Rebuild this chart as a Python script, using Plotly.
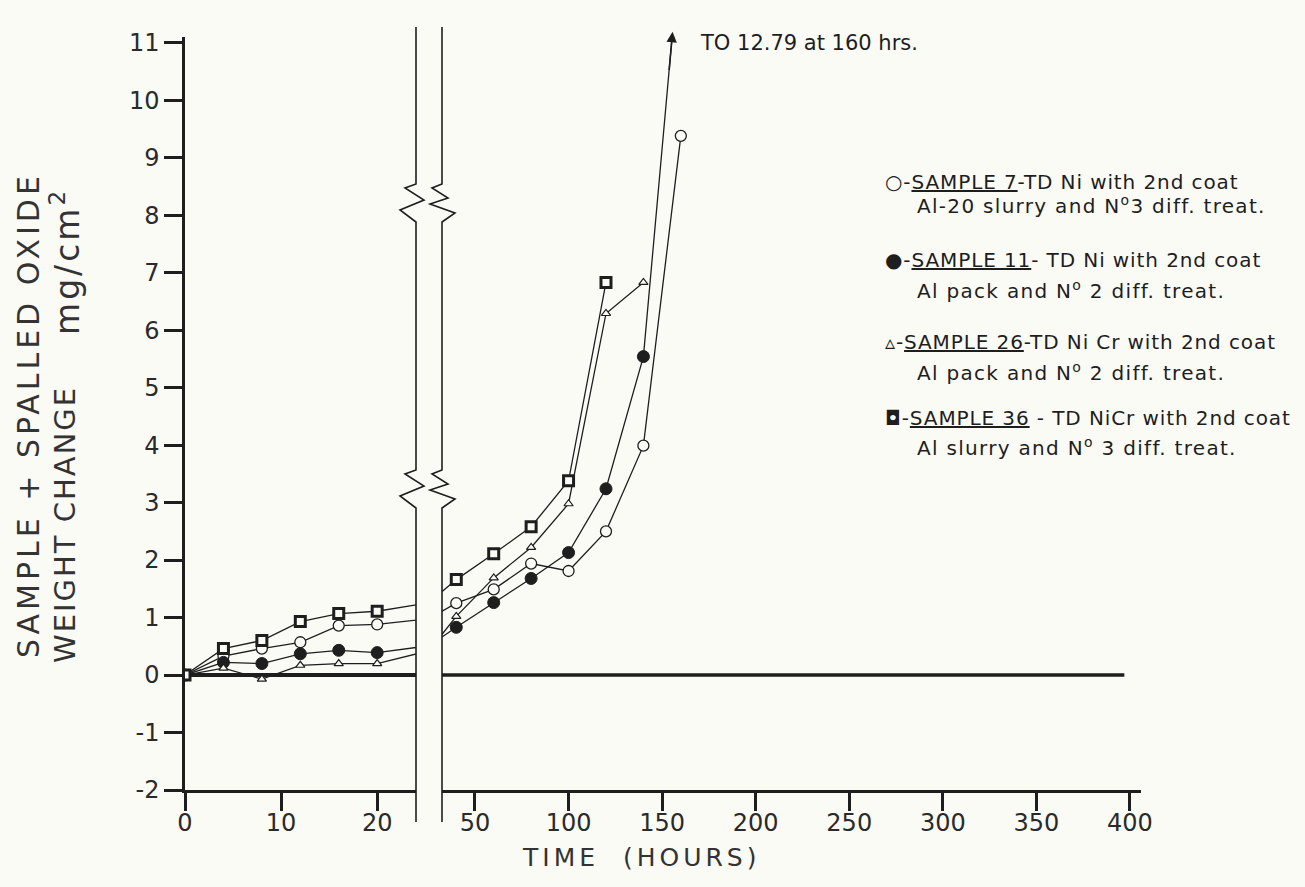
import plotly.graph_objects as go

# ---------------- data ----------------
hours = [0, 4, 8, 12, 16, 20, 40, 60, 80, 100, 120, 140, 160]
sample7 = [0, 0.33, 0.46, 0.57, 0.86, 0.88, 1.25, 1.49, 1.94, 1.81, 2.50, 3.99, 9.38]
sample11 = [0, 0.22, 0.20, 0.37, 0.43, 0.39, 0.83, 1.26, 1.68, 2.13, 3.24, 5.54, 12.79]
sample26 = [0, 0.12, -0.07, 0.17, 0.20, 0.20, 1.02, 1.69, 2.22, 2.98, 6.29, 6.83]
sample36 = [0, 0.46, 0.60, 0.93, 1.07, 1.11, 1.66, 2.11, 2.58, 3.38, 6.83]

left_ticks = [0, 10, 20]
right_ticks = [50, 100, 150, 200, 250, 300, 350, 400]
y_ticks = list(range(-2, 12))
y_ticktext = [str(v) for v in y_ticks]

legend_sym = ["\u25CB", "\u25CF", "\u25B5", "\u25D8"]
legend_name = ["SAMPLE 7", "SAMPLE 11", "SAMPLE 26", "SAMPLE 36"]
legend_sep = ["-", "- ", "-", " - "]
legend_alloy = ["TD Ni with 2nd coat", "TD Ni with 2nd coat",
                "TD Ni Cr with 2nd coat", "TD NiCr with 2nd coat"]
legend_coat = ["Al-20 slurry and N<sup>o</sup>3 diff. treat.",
               "Al pack and N<sup>o</sup> 2 diff. treat.",
               "Al pack and N<sup>o</sup> 2 diff. treat.",
               "Al slurry and N<sup>o</sup> 3 diff. treat."]

# ---------------- geometry ----------------
W, H = 1305, 887
ML, MR, MT, MB = 185, 164, 37, 97
PW, PH = W - ML - MR, H - MT - MB
INK = "#1e1e1e"
BG = "#fbfbf6"
FONT = "DejaVu Sans"


def px(x):
    return (x - ML) / PW


def py(y):
    return (H - MB - y) / PH


left_dom = [0, px(416)]
right_dom = [px(442), 1]
left_range = [0, 24.04]
right_range = [32.37, 405.9]
y_range = [-2, 11.10]

series = [
    (sample7, dict(symbol="circle", size=11, color=BG, line=dict(color=INK, width=1.3))),
    (sample11, dict(symbol="circle", size=12, color=INK, line=dict(color=INK, width=1))),
    (sample26, dict(symbol="triangle-up", size=8, color=BG, line=dict(color=INK, width=1.2))),
    (sample36, dict(symbol="square", size=10, color=BG, line=dict(color=INK, width=3))),
]

fig = go.Figure()
for vals, mk in series:
    for xa, ya in (("x", "y"), ("x2", "y2")):
        fig.add_trace(go.Scatter(
            x=hours[:len(vals)], y=vals, xaxis=xa, yaxis=ya,
            mode="lines+markers", line=dict(color=INK, width=1.3),
            marker=mk, showlegend=False, cliponaxis=True))

axis_common = dict(showgrid=False, ticks="outside", ticklen=18, tickwidth=2.5,
                   tickcolor=INK, showline=True, linewidth=2.5, linecolor=INK,
                   tickfont=dict(family=FONT, size=24, color="#2a2a2a"))

fig.update_layout(
    width=W, height=H, margin=dict(l=ML, r=MR, t=MT, b=MB),
    paper_bgcolor=BG, plot_bgcolor=BG, showlegend=False,
    xaxis=dict(domain=left_dom, range=left_range, tickvals=left_ticks,
               zeroline=False, anchor="y", ticklabelstandoff=-9, **axis_common),
    xaxis2=dict(domain=right_dom, range=right_range, tickvals=right_ticks,
                zeroline=False, anchor="y2", ticklabelstandoff=-9, **axis_common),
    yaxis=dict(range=y_range, tickvals=y_ticks, ticktext=y_ticktext, anchor="x",
               zeroline=True, zerolinewidth=3.5, zerolinecolor=INK, **axis_common),
    yaxis2=dict(range=y_range, anchor="x2", matches="y", showline=False,
                showticklabels=False, ticks="", showgrid=False, zeroline=False),
)

shapes = []
# zero line of the right panel
shapes.append(dict(type="line", xref="x2", yref="y2", x0=right_range[0], x1=397,
                   y0=0, y1=0, line=dict(color=INK, width=3.5), layer="below"))


def break_path(x0, offsets, starts, y_top=27, y_bot=822):
    pts = [(x0, y_top)]
    for ys in starts:
        for dx, dy in offsets:
            pts.append((x0 + dx, ys + dy))
    pts.append((x0, y_bot))
    return "M " + " L ".join(f"{px(a):.5f},{py(b):.5f}" for a, b in pts)


zig_left = [(0, 0), (-11, 4), (8, 16), (-16, 26), (0, 38)]
zig_right = [(0, 0), (-10, 4), (6, 14), (-12, 20), (13, 29), (0, 38)]
for x0, zz in ((416, zig_left), (442, zig_right)):
    shapes.append(dict(type="path", xref="paper", yref="paper",
                       path=break_path(x0, zz, [184, 470]),
                       line=dict(color=INK, width=1.6)))
fig.update_layout(shapes=shapes)

ann = []
# arrow head where sample 11 leaves the chart on its way to 12.79 at 160 h
i0, i1 = len(sample11) - 2, len(sample11) - 1


def x_at(yv):
    return hours[i0] + (yv - sample11[i0]) / (sample11[i1] - sample11[i0]) * (hours[i1] - hours[i0])


tip_y, tail_y = 11.19, 10.5
ann.append(dict(x=x_at(tip_y), y=tip_y, xref="x2", yref="y2",
                ax=x_at(tail_y), ay=tail_y, axref="x2", ayref="y2",
                showarrow=True, arrowhead=2, arrowsize=1.3, arrowwidth=1.6,
                arrowcolor=INK, text=""))
ann.append(dict(x=px(698), y=py(43), xref="paper", yref="paper", xanchor="left",
                yanchor="middle", showarrow=False,
                text=f"TO {sample11[-1]} at {hours[-1]} hrs.",
                font=dict(family=FONT, size=21, color=INK)))

# axis titles
ann.append(dict(x=px(641), y=py(858), xref="paper", yref="paper", showarrow=False,
                xanchor="center", yanchor="middle",
                text="<span style='letter-spacing:4px'>TIME&nbsp;&nbsp;(HOURS)</span>",
                font=dict(family=FONT, size=25, color="#333")))
ann.append(dict(x=px(28), y=py(415), xref="paper", yref="paper", showarrow=False,
                textangle=-90, xanchor="center", yanchor="middle",
                text="<span style='letter-spacing:4px'>SAMPLE + SPALLED OXIDE</span>",
                font=dict(family=FONT, size=30, color="#333")))
ann.append(dict(x=px(65), y=py(525), xref="paper", yref="paper", showarrow=False,
                textangle=-90, xanchor="center", yanchor="middle",
                text="<span style='letter-spacing:2px'>WEIGHT CHANGE</span>",
                font=dict(family=FONT, size=29, color="#333")))
ann.append(dict(x=px(65), y=py(262), xref="paper", yref="paper", showarrow=False,
                textangle=-90, xanchor="center", yanchor="middle",
                text="<span style='letter-spacing:3px'>mg/cm<sup>2</sup></span>",
                font=dict(family=FONT, size=33, color="#333")))

# hand-lettered legend
row1_y = [182, 260, 342, 418]
row2_y = [205, 290, 372, 447]
for k in range(4):
    ann.append(dict(x=px(883), y=py(row1_y[k]), xref="paper", yref="paper",
                    xanchor="left", yanchor="middle", showarrow=False,
                    text=(f"<span style='letter-spacing:0.9px'>{legend_sym[k]}-<u>"
                          f"{legend_name[k]}</u>{legend_sep[k]}{legend_alloy[k]}</span>"),
                    font=dict(family=FONT, size=20, color=INK)))
    ann.append(dict(x=px(915), y=py(row2_y[k]), xref="paper", yref="paper",
                    xanchor="left", yanchor="middle", showarrow=False,
                    text=f"<span style='letter-spacing:1.3px'>{legend_coat[k]}</span>",
                    font=dict(family=FONT, size=20, color=INK)))
fig.update_layout(annotations=ann)

fig.write_html("out.html", config={"displayModeBar": False},
               post_script="document.body.style.margin='0';"
                           "document.body.style.background='#fbfbf6';")
